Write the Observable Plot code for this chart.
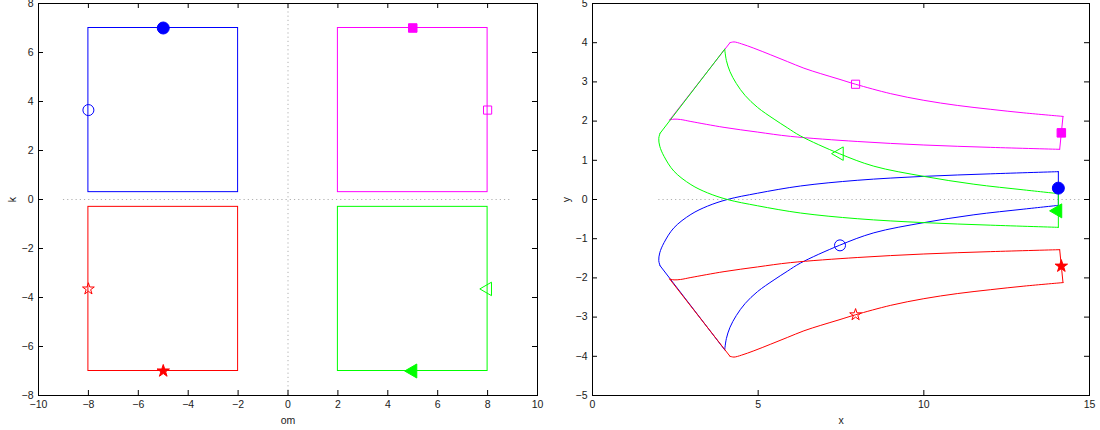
<!DOCTYPE html>
<html>
<head>
<meta charset="utf-8">
<script src="https://cdn.jsdelivr.net/npm/d3@7"></script>
<script src="https://cdn.jsdelivr.net/npm/@observablehq/plot@0.6"></script>
<style>
  body { margin: 0; background: #fff; }
  #wrap { display: flex; width: 1100px; height: 430px; }
</style>
</head>
<body>
<div id="wrap"></div>
<script>
// ---------- series ----------
const seriesNames  = ["blue", "magenta", "red", "green"];
const seriesColors = ["#0000ff", "#ff00ff", "#ff0000", "#00ff00"];

// ---------- left panel: rectangles in (om, k) ----------
const rectOm1 = [-8, 2, -8, 2];
const rectOm2 = [-2, 8, -2, 8];
const rectK1  = [0.3, 0.3, -7, -7];
const rectK2  = [7, 7, -0.3, -0.3];

// markers (filled = mid of outer k edge, open = mid of outer om edge)
const leftFilledOm = [-5, 5, -5, 5];
const leftFilledK  = [7, 7, -7, -7];
const leftOpenOm   = [-8, 8, -8, 8];
const leftOpenK    = [3.65, 3.65, -3.65, -3.65];

const leftXTicks = [-10, -8, -6, -4, -2, 0, 2, 4, 6, 8, 10];
const leftYTicks = [-8, -6, -4, -2, 0, 2, 4, 6, 8];

// ---------- right panel: images of rectangle edges in (x, y) ----------
// blue (om in [-8,-2], k in [0.3,7])
const blueEdgeLowK = [[2.04, -1.69], [3.99, -3.835]];
const blueEdgeOmOuter = [[3.99, -3.835], [4.04, -3.55], [4.15, -3.26], [4.34, -2.96], [4.61, -2.65], [4.98, -2.35], [5.48, -2.05], [5.88, -1.83], [6.28, -1.62], [7.45, -1.17], [8.49, -0.85], [10.0, -0.59], [11.51, -0.39], [13.02, -0.245], [14.06, -0.15]];
const blueEdgeHighK = [[14.06, -0.15], [14.06, 0.71]];
const blueEdgeOmInner = [[14.06, 0.71], [12.02, 0.655], [10.0, 0.59], [7.99, 0.49], [6.28, 0.345], [4.98, 0.16], [4.07, 0.0], [3.47, -0.17], [2.97, -0.38], [2.46, -0.72], [2.16, -1.10], [2.03, -1.36], [2.00, -1.56], [2.04, -1.69]];

// magenta (om in [2,8], k in [0.3,7])
const magentaEdgeLowK = [[2.33, 2.03], [4.15, 4.0]];
const magentaEdgeOmOuter = [[4.15, 4.0], [4.27, 4.02], [4.50, 3.97], [4.87, 3.86], [5.38, 3.69], [5.88, 3.52], [6.38, 3.35], [6.89, 3.21], [7.44, 3.07], [7.94, 2.94], [9.0, 2.70], [10.0, 2.53], [11.01, 2.40], [12.02, 2.30], [13.02, 2.21], [14.20, 2.12]];
const magentaEdgeHighK = [[14.20, 2.12], [14.10, 1.28]];
const magentaEdgeOmInner = [[14.10, 1.28], [12.02, 1.33], [10.0, 1.39], [7.99, 1.48], [5.98, 1.61], [4.98, 1.72], [3.97, 1.84], [2.97, 1.99], [2.66, 2.04], [2.46, 2.05], [2.33, 2.03]];

// red (om in [-8,-2], k in [-7,-0.3])
const redEdgeLowK = [[2.33, -2.03], [4.15, -4.0]];
const redEdgeOmOuter = [[4.15, -4.0], [4.27, -4.02], [4.50, -3.97], [4.87, -3.86], [5.38, -3.69], [5.88, -3.52], [6.38, -3.35], [6.89, -3.21], [7.44, -3.07], [7.94, -2.94], [9.0, -2.70], [10.0, -2.53], [11.01, -2.40], [12.02, -2.30], [13.02, -2.21], [14.20, -2.12]];
const redEdgeHighK = [[14.20, -2.12], [14.10, -1.28]];
const redEdgeOmInner = [[14.10, -1.28], [12.02, -1.33], [10.0, -1.39], [7.99, -1.48], [5.98, -1.61], [4.98, -1.72], [3.97, -1.84], [2.97, -1.99], [2.66, -2.04], [2.46, -2.05], [2.33, -2.03]];

// green (om in [2,8], k in [-7,-0.3])
const greenEdgeLowK = [[2.04, 1.69], [3.99, 3.835]];
const greenEdgeOmOuter = [[3.99, 3.835], [4.04, 3.55], [4.15, 3.26], [4.34, 2.96], [4.61, 2.65], [4.98, 2.35], [5.48, 2.05], [5.88, 1.83], [6.28, 1.62], [7.45, 1.17], [8.49, 0.85], [10.0, 0.59], [11.51, 0.39], [13.02, 0.245], [14.06, 0.15]];
const greenEdgeHighK = [[14.06, 0.15], [14.06, -0.71]];
const greenEdgeOmInner = [[14.06, -0.71], [12.02, -0.655], [10.0, -0.59], [7.99, -0.49], [6.28, -0.345], [4.98, -0.16], [4.07, 0.0], [3.47, 0.17], [2.97, 0.38], [2.46, 0.72], [2.16, 1.10], [2.03, 1.36], [2.00, 1.56], [2.04, 1.69]];

const rightFilledX = [14.06, 14.15, 14.15, 14.04];
const rightFilledY = [0.29, 1.70, -1.70, -0.29];
const rightOpenX   = [7.47, 7.94, 7.94, 7.45];
const rightOpenY   = [-1.17, 2.94, -2.94, 1.17];

const rightXTicks = [0, 5, 10, 15];
const rightYTicks = [-5, -4, -3, -2, -1, 0, 1, 2, 3, 4, 5];

// ---------- build tables ----------
const edgesBySeries = {
  blue: [blueEdgeLowK, blueEdgeOmOuter, blueEdgeHighK, blueEdgeOmInner],
  magenta: [magentaEdgeLowK, magentaEdgeOmOuter, magentaEdgeHighK, magentaEdgeOmInner],
  red: [redEdgeLowK, redEdgeOmOuter, redEdgeHighK, redEdgeOmInner],
  green: [greenEdgeLowK, greenEdgeOmOuter, greenEdgeHighK, greenEdgeOmInner]
};
const symbols = {
  blue: {symbol: "circle", rFilled: 6, rOpen: 5.5, rotate: 0},
  magenta: {symbol: "square", rFilled: 4.8, rOpen: 4.6, rotate: 0},
  red: {symbol: "star", rFilled: 3.9, rOpen: 3.7, rotate: 0},
  green: {symbol: "triangle", rFilled: 5.2, rOpen: 5.0, rotate: -90}
};

const rects = seriesNames.map((s, i) => ({s, c: seriesColors[i], om1: rectOm1[i], om2: rectOm2[i], k1: rectK1[i], k2: rectK2[i]}));

const FONT = {fontFamily: "'Liberation Sans', Arial, Helvetica, sans-serif", fontSize: "10.5px", color: "#1a1a1a", background: "#fff"};
const TICK = 5;

function frameMarks(xTicks, yTicks, fw, fh, xLabel, yLabel, yLabelOffset) {
  return [
    Plot.frame({stroke: "#000", strokeWidth: 1}),
    Plot.tickX(xTicks, {x: d => d, insetTop: fh - TICK, stroke: "#000"}),
    Plot.tickX(xTicks, {x: d => d, insetBottom: fh - TICK, stroke: "#000"}),
    Plot.tickY(yTicks, {y: d => d, insetRight: fw - TICK, stroke: "#000"}),
    Plot.tickY(yTicks, {y: d => d, insetLeft: fw - TICK, stroke: "#000"}),
    Plot.axisX(xTicks, {tickSize: 0, tickPadding: 5, label: xLabel, labelAnchor: "center", labelArrow: "none", labelOffset: 28}),
    Plot.axisY(yTicks, {tickSize: 0, tickPadding: 5, label: yLabel, labelAnchor: "center", labelArrow: "none", labelOffset: yLabelOffset})
  ];
}

// ---------- left plot ----------
const LW = 550, H = 430;
const lm = {l: 38, r: 13, t: 3, b: 35};
const leftMarks = [
  Plot.ruleX([0], {stroke: "#b0b0b0", strokeDasharray: "1.2,3"}),
  Plot.ruleY([0], {x1: -9, x2: 9, stroke: "#b0b0b0", strokeDasharray: "1.2,3"}),
  Plot.rect(rects, {x1: "om1", x2: "om2", y1: "k1", y2: "k2", stroke: d => d.c, fill: "none", strokeWidth: 1})
];
seriesNames.forEach((s, i) => {
  const c = seriesColors[i], sy = symbols[s];
  leftMarks.push(Plot.dot([{om: leftOpenOm[i], k: leftOpenK[i]}], {x: "om", y: "k", symbol: sy.symbol, r: sy.rOpen, rotate: sy.rotate, stroke: c, fill: "none", strokeWidth: 1}));
  leftMarks.push(Plot.dot([{om: leftFilledOm[i], k: leftFilledK[i]}], {x: "om", y: "k", symbol: sy.symbol, r: sy.rFilled, rotate: sy.rotate, stroke: c, fill: c, strokeWidth: 1}));
});
const leftPlot = Plot.plot({
  width: LW, height: H,
  marginLeft: lm.l, marginRight: lm.r, marginTop: lm.t, marginBottom: lm.b,
  style: FONT,
  x: {domain: [-10, 10]},
  y: {domain: [-8, 8]},
  marks: [...leftMarks, ...frameMarks(leftXTicks, leftYTicks, LW - lm.l - lm.r, H - lm.t - lm.b, "om", "k", 30)]
});

// ---------- right plot ----------
const rm = {l: 42, r: 11, t: 3, b: 35};
const rightMarks = [
  Plot.ruleY([0], {x1: 2, x2: 14.8, stroke: "#b0b0b0", strokeDasharray: "1.2,3"})
];
const drawOrder = ["blue", "magenta", "red", "green"];
drawOrder.forEach(s => {
  const c = seriesColors[seriesNames.indexOf(s)];
  const rows = [];
  edgesBySeries[s].forEach((edge, e) => edge.forEach(([x, y]) => rows.push({x, y, edge: e})));
  rightMarks.push(Plot.line(rows, {x: "x", y: "y", z: "edge", stroke: c, strokeWidth: 1, curve: "catmull-rom"}));
});
seriesNames.forEach((s, i) => {
  const c = seriesColors[i], sy = symbols[s];
  rightMarks.push(Plot.dot([{x: rightOpenX[i], y: rightOpenY[i]}], {x: "x", y: "y", symbol: sy.symbol, r: sy.rOpen, rotate: sy.rotate, stroke: c, fill: "none", strokeWidth: 1}));
  rightMarks.push(Plot.dot([{x: rightFilledX[i], y: rightFilledY[i]}], {x: "x", y: "y", symbol: sy.symbol, r: sy.rFilled, rotate: sy.rotate, stroke: c, fill: c, strokeWidth: 1}));
});
const rightPlot = Plot.plot({
  width: LW, height: H,
  marginLeft: rm.l, marginRight: rm.r, marginTop: rm.t, marginBottom: rm.b,
  style: FONT,
  x: {domain: [0, 15]},
  y: {domain: [-5, 5]},
  marks: [...rightMarks, ...frameMarks(rightXTicks, rightYTicks, LW - rm.l - rm.r, H - rm.t - rm.b, "x", "y", 30)]
});

document.getElementById("wrap").append(leftPlot, rightPlot);
</script>
</body>
</html>
